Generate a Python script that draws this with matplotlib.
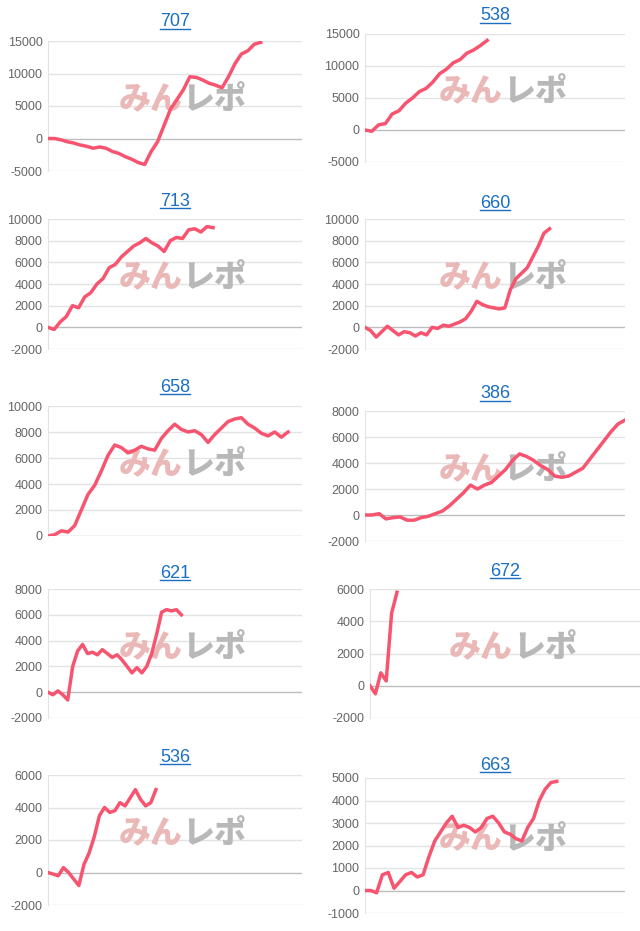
import numpy as np
import matplotlib
matplotlib.use("Agg")
import matplotlib.pyplot as plt
from matplotlib.lines import Line2D

plt.rcParams["axes.unicode_minus"] = False
plt.rcParams["font.family"] = ["Liberation Sans", "DejaVu Sans"]

titles = ["707", "538", "713", "660", "658", "386", "621", "672", "536", "663"]
s707 = [0, 0, -200, -500, -700, -1000, -1200, -1500, -1300, -1500, -2000, -2300, -2800, -3200, -3700, -4000,
        -2000, -500, 2000, 4500, 6000, 7500, 9500, 9400, 9000, 8500, 8200, 7800, 9500, 11500, 13000, 13500, 14500, 14800]
s538 = [0, -200, 800, 1000, 2500, 3000, 4200, 5000, 6000, 6500, 7500, 8800, 9500, 10500, 11000, 12000, 12500, 13200, 14000]
s713 = [0, -200, 500, 1000, 2000, 1800, 2800, 3200, 4000, 4500, 5500, 5800, 6500, 7000, 7500, 7800, 8200, 7800,
        7500, 7000, 8000, 8300, 8200, 9000, 9100, 8800, 9300, 9200]
s660 = [0, -300, -900, -400, 100, -300, -700, -400, -500, -800, -500, -700, 0, -100, 200, 100, 300, 500, 800, 1500,
        2400, 2100, 1900, 1800, 1700, 1800, 3500, 4500, 5000, 5500, 6500, 7500, 8700, 9100]
s658 = [0, 100, 400, 300, 800, 2000, 3200, 3900, 5000, 6200, 7000, 6800, 6400, 6600, 6900, 6700, 6600, 7500, 8100,
        8600, 8200, 8000, 8100, 7800, 7200, 7800, 8300, 8800, 9000, 9100, 8600, 8300, 7900, 7700, 8000, 7600, 8000]
s386 = [0, 0, 100, -300, -200, -150, -400, -400, -200, -100, 100, 300, 700, 1200, 1700, 2300, 2000, 2300, 2500, 3000,
        3500, 4200, 4700, 4500, 4200, 3800, 3500, 3000, 2900, 3000, 3300, 3600, 4300, 5000, 5700, 6400, 7000, 7300]
s621 = [0, -200, 100, -200, -600, 2000, 3200, 3700, 3000, 3100, 2900, 3300, 3000, 2700, 2900, 2500, 2000, 1500, 1900,
        1500, 2000, 3000, 4500, 6200, 6400, 6300, 6400, 6000]
s672 = [0, -500, 800, 300, 4500, 5800]
s536 = [0, -100, -200, 300, 0, -400, -800, 500, 1200, 2200, 3500, 4000, 3700, 3800, 4300, 4100, 4600, 5100, 4500, 4100, 4300, 5100]
s663 = [0, 0, -100, 700, 800, 100, 400, 700, 800, 600, 700, 1500, 2200, 2600, 3000, 3300, 2800, 2900, 2800, 2600, 2800,
        3200, 3300, 3000, 2600, 2500, 2300, 2200, 2800, 3200, 4000, 4500, 4800, 4850]
series = [s707, s538, s713, s660, s658, s386, s621, s672, s536, s663]
x_ends = [33.5, 18.8, 26, 28.4, 37.8, 40, 21, 4, 17, 29.5]
ylims = [(-5000, 15000, 5000), (-5000, 15000, 5000), (-2000, 10000, 2000), (-2000, 10000, 2000),
         (0, 10000, 2000), (-2000, 8000, 2000), (-2000, 8000, 2000), (-2000, 6000, 2000),
         (-2000, 6000, 2000), (-1000, 5000, 1000)]
XMAX = 40

boxes = [(48, 302, 41, 171, 22), (365, 625, 34, 162, 16),
         (48, 302, 219, 349, 201), (365, 625, 219, 349, 203),
         (48, 302, 406, 536, 387), (365, 625, 411, 541, 394),
         (48, 302, 589, 718, 573), (370, 640, 589, 718, 571),
         (48, 302, 775, 905, 757), (365, 625, 778, 913, 765)]
W, H = 640, 931
fig = plt.figure(figsize=(W / 100, H / 100), dpi=100)
line_col = "#f7546f"
titles_objs = []
wm_font = ["Noto Sans CJK JP", "DejaVu Sans"]
for i in range(10):
    l, r, t, b, ty = boxes[i]
    ax = fig.add_axes([l / W, 1 - b / H, (r - l) / W, (b - t) / H])
    y = series[i]
    x = np.linspace(0, x_ends[i], len(y))
    lo, hi, st = ylims[i]
    ax.set_xlim(0, XMAX)
    ax.set_ylim(lo, hi)
    ax.set_yticks(np.arange(lo, hi + 1, st))
    ax.set_xticks([])
    for v in np.arange(lo, hi + 1, st):
        ax.axhline(v, color="#bdbdbd" if v == 0 else "#e3e3e3", lw=1, zorder=0)
    for sp in ["top", "right", "bottom"]:
        ax.spines[sp].set_visible(False)
    ax.spines["left"].set_color("#e3e3e3")
    ax.tick_params(axis="y", length=0, labelsize=9, labelcolor="#666666", pad=4)
    ax.set_facecolor("none")
    ax.text(0.53, 0.55, "みん", transform=ax.transAxes, ha="right", va="center", fontsize=23,
            fontweight="heavy", color="#ebb8b8", family=wm_font, zorder=1)
    ax.text(0.53, 0.55, "レポ", transform=ax.transAxes, ha="left", va="center", fontsize=23,
            fontweight="heavy", color="#b8b8b8", family=wm_font, zorder=1)
    ax.plot(x, y, color=line_col, lw=2.5, zorder=3, solid_joinstyle="round")
    cx = (l + r) / 2
    tt = fig.text(cx / W, 1 - ty / H, titles[i], ha="center", va="center", fontsize=13, color="#1a6fc4")
    titles_objs.append(tt)

fig.canvas.draw()
for tt in titles_objs:
    bb = tt.get_window_extent()
    yy = (bb.y0 + 2) / H
    fig.add_artist(Line2D([bb.x0 / W, bb.x1 / W], [yy, yy], color="#1a6fc4", lw=1))

fig.savefig("out.png", dpi=100, facecolor="white")
